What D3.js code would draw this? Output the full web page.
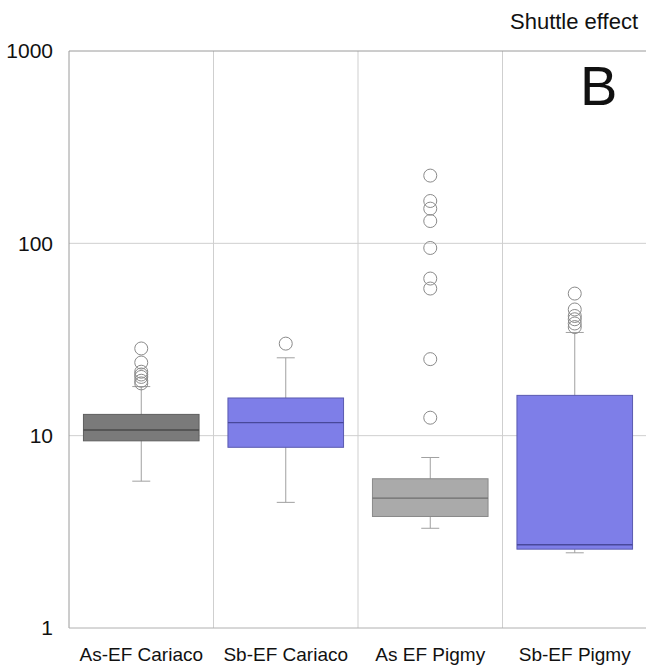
<!DOCTYPE html>
<html>
<head>
<meta charset="utf-8">
<script src="https://cdn.jsdelivr.net/npm/d3@7"></script>
<style>
  body { margin: 0; background: #fff; }
  text { font-family: "Liberation Sans", Arial, sans-serif; fill: #111; }
</style>
</head>
<body>
<script>
var categories = ["As-EF Cariaco", "Sb-EF Cariaco", "As EF Pigmy", "Sb-EF Pigmy"];
var whiskerLow = [5.8, 4.5, 3.3, 2.46];
var q1 = [9.4, 8.7, 3.8, 2.57];
var median = [10.7, 11.7, 4.73, 2.71];
var q3 = [12.9, 15.7, 5.97, 16.2];
var whiskerHigh = [18.0, 25.4, 7.7, 34.4];
var outliers = [
  [28.4, 24, 21.5, 20.8, 20.2, 19.3, 18.7],
  [30.1],
  [225, 166, 151.5, 130.6, 94.6, 65.6, 58.2, 25.0, 12.4],
  [54.8, 45.3, 41.9, 40.3, 38.3, 36.7]
];
var yTicks = [1, 10, 100, 1000];
var fills = ["#7a7a7a", "#7e7ee8", "#aaaaaa", "#7e7ee8"];
var strokes = ["#5e5e5e", "#5a5ab0", "#8a8a8a", "#5a5ab0"];
var medianColors = ["#4a4a4a", "#48489a", "#6e6e6e", "#48489a"];

var margin = {top: 51, right: -1, left: 69},
  width = 646 - margin.left - margin.right,
  height = 628 - margin.top;

var x = d3.scaleBand().domain(categories).range([0, width]).padding(0);
var y = d3.scaleLog().domain([1, 1000]).range([height, 0]);

var svg = d3.select("body").append("svg")
  .attr("width", 646)
  .attr("height", 668);

svg.append("text")
  .attr("x", 638).attr("y", 29)
  .attr("text-anchor", "end")
  .style("font-size", "22px")
  .text("Shuttle effect");

var g = svg.append("g")
  .attr("transform", "translate(" + margin.left + "," + margin.top + ")");

// grid
g.selectAll(".hgrid")
  .data(yTicks.slice(1, 3))
  .enter().append("line")
  .attr("x1", 0).attr("x2", width)
  .attr("y1", function (d) { return y(d); })
  .attr("y2", function (d) { return y(d); })
  .attr("stroke", "#cfcfcf");

g.selectAll(".vgrid")
  .data(categories.slice(1))
  .enter().append("line")
  .attr("x1", function (d) { return x(d); })
  .attr("x2", function (d) { return x(d); })
  .attr("y1", 0).attr("y2", height)
  .attr("stroke", "#cfcfcf");

// frame
g.append("path")
  .attr("d", "M0," + height + "V0H" + width)
  .attr("fill", "none")
  .attr("stroke", "#9a9a9a");
g.append("line")
  .attr("x1", 0).attr("x2", width)
  .attr("y1", height).attr("y2", height)
  .attr("stroke", "#b0b0b0");

// y axis labels
g.selectAll(".ylab")
  .data(yTicks)
  .enter().append("text")
  .attr("x", -16)
  .attr("y", function (d) { return y(d); })
  .attr("dy", "0.35em")
  .attr("text-anchor", "end")
  .style("font-size", "21px")
  .text(function (d) { return d; });

// x labels
g.selectAll(".xlab")
  .data(categories)
  .enter().append("text")
  .attr("x", function (d) { return x(d) + x.bandwidth() / 2; })
  .attr("y", height + 33)
  .attr("text-anchor", "middle")
  .style("font-size", "19px")
  .text(function (d) { return d; });

var boxW = x.bandwidth() * 0.8;
var capW = 18;

var boxes = g.selectAll(".box")
  .data(categories)
  .enter().append("g")
  .attr("transform", function (d) { return "translate(" + (x(d) + x.bandwidth() / 2) + ",0)"; });

// whiskers
boxes.append("line")
  .attr("x1", 0).attr("x2", 0)
  .attr("y1", function (d, i) { return y(whiskerLow[i]); })
  .attr("y2", function (d, i) { return y(whiskerHigh[i]); })
  .attr("stroke", "#a0a0a0");
boxes.append("line")
  .attr("x1", -capW / 2).attr("x2", capW / 2)
  .attr("y1", function (d, i) { return y(whiskerLow[i]); })
  .attr("y2", function (d, i) { return y(whiskerLow[i]); })
  .attr("stroke", "#a0a0a0");
boxes.append("line")
  .attr("x1", -capW / 2).attr("x2", capW / 2)
  .attr("y1", function (d, i) { return y(whiskerHigh[i]); })
  .attr("y2", function (d, i) { return y(whiskerHigh[i]); })
  .attr("stroke", "#a0a0a0");

// boxes
boxes.append("rect")
  .attr("x", -boxW / 2)
  .attr("width", boxW)
  .attr("y", function (d, i) { return y(q3[i]); })
  .attr("height", function (d, i) { return y(q1[i]) - y(q3[i]); })
  .attr("fill", function (d, i) { return fills[i]; })
  .attr("stroke", function (d, i) { return strokes[i]; });

boxes.append("line")
  .attr("x1", -boxW / 2).attr("x2", boxW / 2)
  .attr("y1", function (d, i) { return y(median[i]); })
  .attr("y2", function (d, i) { return y(median[i]); })
  .attr("stroke", function (d, i) { return medianColors[i]; })
  .attr("stroke-width", 1.3);

// outliers
boxes.each(function (d, i) {
  d3.select(this).selectAll("circle")
    .data(outliers[i])
    .enter().append("circle")
    .attr("cx", 0)
    .attr("cy", function (v) { return y(v); })
    .attr("r", 6.5)
    .attr("fill", "none")
    .attr("stroke", "#8a8a8a");
});

svg.append("text")
  .attr("x", 580).attr("y", 105)
  .style("font-size", "56px")
  .text("B");
</script>
</body>
</html>
